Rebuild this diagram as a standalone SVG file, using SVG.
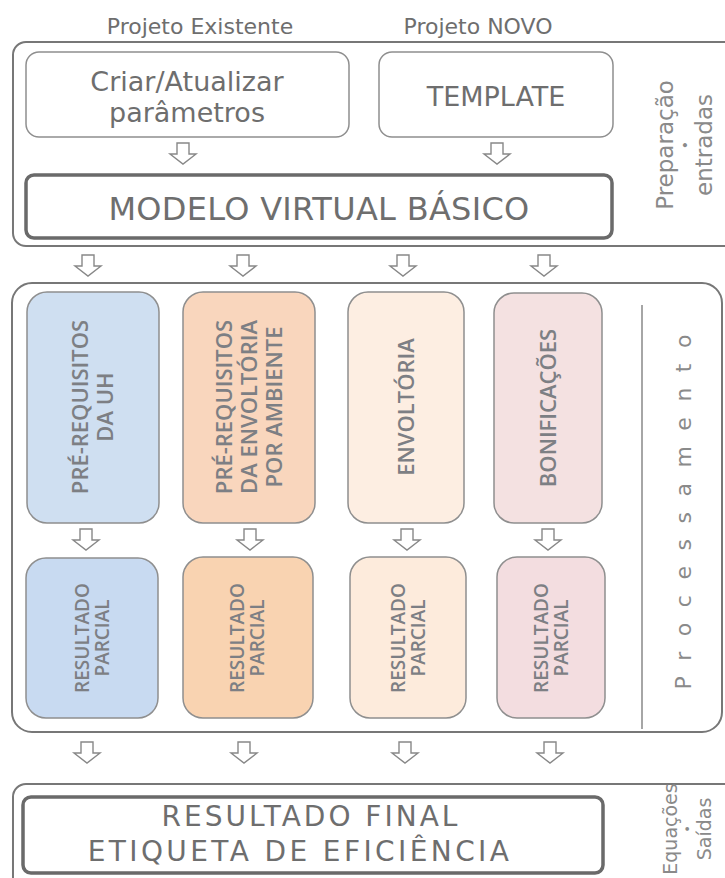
<svg xmlns="http://www.w3.org/2000/svg" width="725" height="878" viewBox="0 0 725 878">
<defs>
<style>
.outer{fill:#fff;stroke:#777;stroke-width:2}
.node{stroke:#8f8f8f;stroke-width:1.5}
.thick{fill:#fff;stroke:#6a6a6a;stroke-width:3.5}
.t{font-family:"DejaVu Sans",Verdana,sans-serif;fill:#6e6e6e}
.side{font-family:"DejaVu Sans",Verdana,sans-serif;fill:#8a8a8a}
.col{font-family:"Open Sans","DejaVu Sans",sans-serif;font-weight:600;fill:#7d7f84;text-anchor:middle}
.arr{fill:#fff;stroke:#888;stroke-width:1.4}
</style>
<path id="arr" class="arr" d="M-6,0 H6 V11 H13 L0,21 L-13,11 H-6 Z"/>
</defs>
<rect width="725" height="878" fill="#fff"/>

<g id="labels-top">
<text class="t" x="200" y="34" font-size="22" text-anchor="middle">Projeto Existente</text>
<text class="t" x="478" y="34" font-size="22" text-anchor="middle">Projeto NOVO</text>
</g>

<g id="prep">
<rect class="outer" x="13" y="42" width="730" height="204" rx="13"/>
<g class="side" font-size="23" text-anchor="middle">
<text transform="translate(673,145) rotate(-90)">Preparação</text>
<text transform="translate(690,145) rotate(-90)" font-size="14">•</text>
<text transform="translate(712,145) rotate(-90)">entradas</text>
</g>
</g>

<g id="criar">
<rect class="node" fill="#fff" x="26" y="52" width="323" height="85" rx="13"/>
<text class="t" x="187" y="91" font-size="27" text-anchor="middle">Criar/Atualizar</text>
<text class="t" x="187" y="122" font-size="27" text-anchor="middle">parâmetros</text>
</g>

<g id="template">
<rect class="node" fill="#fff" x="379" y="52" width="234" height="85" rx="13"/>
<text class="t" x="496" y="106" font-size="27" text-anchor="middle">TEMPLATE</text>
</g>

<g id="modelo">
<rect class="thick" x="26" y="175" width="586" height="63" rx="8"/>
<text class="t" x="319" y="220" font-size="32" text-anchor="middle" letter-spacing="0.3">MODELO VIRTUAL BÁSICO</text>
</g>

<g id="processamento">
<rect class="outer" x="12" y="283" width="710" height="449" rx="20"/>
<line x1="642" y1="305" x2="642" y2="729" stroke="#888" stroke-width="1.5"/>
<text class="side" transform="translate(691,512) rotate(-90)" font-size="22" text-anchor="middle" textLength="355" lengthAdjust="spacing">P r o c e s s a m e n t o</text>
</g>

<g id="prereq-uh">
<rect class="node" fill="#cfdff1" x="27" y="292" width="132" height="231" rx="20"/>
<text class="col" transform="translate(93,407) rotate(-90)" font-size="22"><tspan x="0" y="-5">PRÉ-REQUISITOS</tspan><tspan x="0" y="20">DA UH</tspan></text>
</g>

<g id="prereq-env">
<rect class="node" fill="#f9d6bd" x="183" y="292" width="132" height="231" rx="20"/>
<text class="col" transform="translate(249,407) rotate(-90)" font-size="22"><tspan x="0" y="-17">PRÉ-REQUISITOS</tspan><tspan x="0" y="8">DA ENVOLTÓRIA</tspan><tspan x="0" y="33">POR AMBIENTE</tspan></text>
</g>

<g id="envoltoria">
<rect class="node" fill="#fdeee2" x="348" y="292" width="116" height="231" rx="20"/>
<text class="col" transform="translate(414,407) rotate(-90)" font-size="22">ENVOLTÓRIA</text>
</g>

<g id="bonificacoes">
<rect class="node" fill="#f4e1e1" x="494" y="293" width="108" height="230" rx="20"/>
<text class="col" transform="translate(556,408) rotate(-90)" font-size="22">BONIFICAÇÕES</text>
</g>

<g id="res-uh">
<rect class="node" fill="#c8daf1" x="26" y="558" width="132" height="160" rx="20"/>
<text class="col" transform="translate(92,638) rotate(-90)" font-size="19"><tspan x="0" y="-3">RESULTADO</tspan><tspan x="0" y="17">PARCIAL</tspan></text>
</g>

<g id="res-env1">
<rect class="node" fill="#f9d3b1" x="183" y="557" width="130" height="161" rx="20"/>
<text class="col" transform="translate(247,638) rotate(-90)" font-size="19"><tspan x="0" y="-3">RESULTADO</tspan><tspan x="0" y="17">PARCIAL</tspan></text>
</g>

<g id="res-env2">
<rect class="node" fill="#fdebdc" x="350" y="557" width="116" height="161" rx="20"/>
<text class="col" transform="translate(408,638) rotate(-90)" font-size="19"><tspan x="0" y="-3">RESULTADO</tspan><tspan x="0" y="17">PARCIAL</tspan></text>
</g>

<g id="res-bon">
<rect class="node" fill="#f3dde0" x="497" y="557" width="108" height="161" rx="20"/>
<text class="col" transform="translate(551,638) rotate(-90)" font-size="19"><tspan x="0" y="-3">RESULTADO</tspan><tspan x="0" y="17">PARCIAL</tspan></text>
</g>

<g id="saidas">
<rect class="outer" x="13" y="784" width="730" height="120" rx="13"/>
<g class="side" font-size="19" text-anchor="middle">
<text transform="translate(677,829) rotate(-90)">Equações</text>
<text transform="translate(692,829) rotate(-90)" font-size="13">•</text>
<text transform="translate(711,829) rotate(-90)">Saídas</text>
</g>
</g>

<g id="final">
<rect class="thick" x="23" y="797" width="580" height="76" rx="8"/>
<text class="t" x="311" y="826" font-size="28" text-anchor="middle" letter-spacing="3">RESULTADO FINAL</text>
<text class="t" x="300" y="861" font-size="28" text-anchor="middle" letter-spacing="3.4">ETIQUETA DE EFICIÊNCIA</text>
</g>

<g id="connectors">
<use href="#arr" x="183" y="143"/>
<use href="#arr" x="497" y="143"/>
<use href="#arr" x="88" y="255"/>
<use href="#arr" x="243" y="255"/>
<use href="#arr" x="403" y="255"/>
<use href="#arr" x="544" y="255"/>
<use href="#arr" x="86" y="529"/>
<use href="#arr" x="250" y="529"/>
<use href="#arr" x="407" y="529"/>
<use href="#arr" x="548" y="529"/>
<use href="#arr" x="87" y="742"/>
<use href="#arr" x="244" y="742"/>
<use href="#arr" x="405" y="742"/>
<use href="#arr" x="550" y="742"/>
</g>
</svg>
